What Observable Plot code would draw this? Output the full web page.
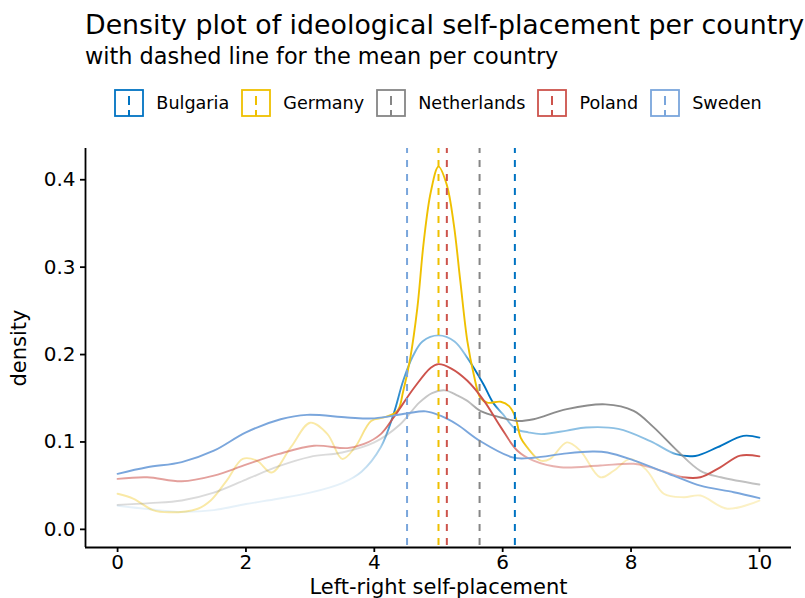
<!DOCTYPE html>
<html>
<head>
<meta charset="utf-8">
<script src="https://cdn.jsdelivr.net/npm/d3@7"></script>
<script src="https://cdn.jsdelivr.net/npm/@observablehq/plot@0.6"></script>
<style>
  body { margin: 0; background: #fff; }
  #wrap { position: relative; width: 805px; height: 598px; overflow: hidden; font-family: "DejaVu Sans", sans-serif; color: #000; }
  #title { position: absolute; left: 85px; top: 12px; font-size: 26.8px; line-height: 1; white-space: nowrap; }
  #subtitle { position: absolute; left: 85px; top: 45px; font-size: 22.4px; line-height: 1; white-space: nowrap; }
  #legend { position: absolute; left: 85px; width: 706px; top: 88px; height: 30px; display: flex; justify-content: center; align-items: center; font-size: 17.6px; }
  .item { display: flex; align-items: center; margin: 0 6px; }
  .item svg { margin-right: 12px; }
  #chart { position: absolute; left: 0; top: 130px; }
  #chart [aria-label$="tick"] { stroke-width: 1.8px; }
</style>
</head>
<body>
<div id="wrap">
  <div id="title">Density plot of ideological self-placement per country</div>
  <div id="subtitle">with dashed line for the mean per country</div>
  <div id="legend"></div>
  <div id="chart"></div>
</div>
<script>
// ---- data ----
const countries = ["Bulgaria", "Germany", "Netherlands", "Poland", "Sweden"];
const palette = ["#0073C2", "#EFC000", "#868686", "#CD534C", "#7AA6DC"];
const means = [6.19, 5.0, 5.64, 5.13, 4.51];

const bulgariaX = [0, 0.5, 1.0, 1.5, 2.0, 2.5, 3.0, 3.5, 3.8, 4.1, 4.3, 4.45, 4.6, 4.75, 5.0, 5.25, 5.45, 5.7, 5.85, 6.0, 6.2, 6.4, 6.6, 7.0, 7.3, 7.8, 8.3, 8.7, 9.0, 9.35, 9.75, 10];
const bulgariaY = [0.027, 0.023, 0.02, 0.022, 0.029, 0.035, 0.042, 0.053, 0.066, 0.094, 0.132, 0.17, 0.198, 0.215, 0.222, 0.215, 0.196, 0.166, 0.145, 0.132, 0.115, 0.111, 0.109, 0.113, 0.1166, 0.115, 0.101, 0.086, 0.084, 0.094, 0.107, 0.105];

const germanyX = [0, 0.25, 0.55, 0.8, 1.25, 1.45, 1.7, 1.95, 2.17, 2.4, 2.7, 3.0, 3.27, 3.5, 3.7, 3.95, 4.15, 4.36, 4.45, 4.56, 4.67, 4.77, 4.88, 5.0, 5.13, 5.24, 5.34, 5.45, 5.55, 5.65, 5.76, 5.97, 6.1, 6.2, 6.28, 6.38, 6.59, 6.74, 7.0, 7.21, 7.52, 7.73, 7.99, 8.25, 8.51, 8.82, 9.08, 9.5, 10];
const germanyY = [0.0407, 0.035, 0.022, 0.0195, 0.0236, 0.033, 0.0558, 0.0806, 0.0786, 0.065, 0.094, 0.122, 0.109, 0.0806, 0.094, 0.124, 0.128, 0.1356, 0.158, 0.196, 0.253, 0.329, 0.386, 0.415, 0.394, 0.348, 0.284, 0.215, 0.177, 0.151, 0.145, 0.146, 0.141, 0.128, 0.105, 0.094, 0.0786, 0.0806, 0.0995, 0.090, 0.0596, 0.067, 0.0806, 0.067, 0.0407, 0.0368, 0.0387, 0.0236, 0.033];

const netherlandsX = [0, 0.5, 1.0, 1.5, 2.0, 2.5, 3.0, 3.5, 4.0, 4.4, 4.7, 4.9, 5.1, 5.3, 5.45, 5.65, 5.97, 6.23, 6.48, 7.0, 7.6, 8.04, 8.35, 8.72, 9.08, 9.4, 10];
const netherlandsY = [0.028, 0.030, 0.033, 0.042, 0.057, 0.072, 0.083, 0.088, 0.0995, 0.12, 0.145, 0.156, 0.159, 0.153, 0.147, 0.1356, 0.128, 0.124, 0.126, 0.1375, 0.143, 0.1356, 0.117, 0.090, 0.067, 0.0596, 0.0513];

const polandX = [0, 0.46, 1.0, 1.5, 2.0, 2.5, 3.06, 3.58, 3.84, 4.1, 4.3, 4.62, 4.88, 5.0, 5.2, 5.45, 5.71, 5.97, 6.23, 6.48, 6.9, 7.52, 8.04, 8.3, 8.82, 9.08, 9.39, 9.7, 10];
const polandY = [0.0578, 0.0596, 0.055, 0.0615, 0.074, 0.086, 0.0957, 0.093, 0.0977, 0.109, 0.128, 0.162, 0.185, 0.189, 0.184, 0.170, 0.147, 0.117, 0.090, 0.0786, 0.071, 0.073, 0.075, 0.071, 0.0596, 0.0596, 0.071, 0.0843, 0.0835];

const swedenX = [0, 0.46, 1.0, 1.5, 2.0, 2.54, 2.95, 3.58, 4.0, 4.5, 4.8, 5.03, 5.29, 5.65, 6.17, 6.48, 7.0, 7.4, 7.63, 8.04, 8.66, 9.08, 9.6, 10];
const swedenY = [0.0635, 0.071, 0.077, 0.090, 0.111, 0.126, 0.131, 0.128, 0.127, 0.1326, 0.135, 0.130, 0.120, 0.101, 0.082, 0.082, 0.087, 0.089, 0.088, 0.079, 0.0615, 0.050, 0.0425, 0.0357];

// opacity of each curve along x, as it appears in the picture
const bulgariaAlphaX = [0, 3.6, 4.1, 4.3, 4.6, 5.0, 5.4, 5.55, 5.85, 6.0, 8.6, 8.85, 10];
const bulgariaAlpha  = [0.1, 0.1, 0.35, 0.9, 0.55, 0.45, 0.45, 1, 1, 0.45, 0.45, 1, 1];
const germanyAlphaX = [0, 3.6, 4.1, 4.3, 6.3, 6.6, 7.2, 10];
const germanyAlpha  = [0.35, 0.35, 0.6, 1, 1, 0.35, 0.3, 0.22];
const netherlandsAlphaX = [0, 4.0, 5.0, 5.5, 5.7, 8.6, 8.9, 10];
const netherlandsAlpha  = [0.3, 0.3, 0.5, 0.55, 0.95, 0.95, 0.55, 0.5];
const polandAlphaX = [0, 4.0, 4.3, 6.0, 6.4, 8.7, 8.9, 10];
const polandAlpha  = [0.55, 0.55, 1, 1, 0.45, 0.45, 1, 1];
const swedenAlphaX = [0, 10];
const swedenAlpha  = [1, 1];

const xTicks = [0, 2, 4, 6, 8, 10];
const yTicks = [0, 0.1, 0.2, 0.3, 0.4];

// ---- build tables ----
const seriesX = [bulgariaX, germanyX, netherlandsX, polandX, swedenX];
const seriesY = [bulgariaY, germanyY, netherlandsY, polandY, swedenY];
const alphaX = [bulgariaAlphaX, germanyAlphaX, netherlandsAlphaX, polandAlphaX, swedenAlphaX];
const alphaV = [bulgariaAlpha, germanyAlpha, netherlandsAlpha, polandAlpha, swedenAlpha];

const curves = countries.map((c, i) => seriesX[i].map((x, j) => ({country: c, x, density: seriesY[i][j]})));
const meanRows = countries.map((c, i) => ({country: c, mean: means[i]}));

const xMin = 0, xMax = 10;
const yMaxData = d3.max(seriesY.flat());
const xPad = (xMax - xMin) * 0.05, yPad = yMaxData * 0.05;
const xDomain = [xMin - xPad, xMax + xPad];
const yDomain = [0 - yPad, yMaxData + yPad];

const plot = Plot.plot({
  width: 805,
  height: 468,
  marginLeft: 85,
  marginRight: 14,
  marginTop: 18,
  marginBottom: 51,
  style: {fontFamily: "DejaVu Sans, sans-serif", fontSize: "20px", color: "#000", background: "#fff", overflow: "visible"},
  x: {domain: xDomain, ticks: xTicks, tickFormat: d3.format("d"), tickSize: 5, tickPadding: 2,
      label: "Left-right self-placement", labelAnchor: "center", labelOffset: 46, labelArrow: "none"},
  y: {domain: yDomain, ticks: yTicks, tickFormat: d3.format(".1f"), tickSize: 5, tickPadding: 5,
      label: "density", labelAnchor: "center", labelOffset: 74, labelArrow: "none"},
  color: {domain: countries, range: palette},
  marks: [
    ...curves.map((data, i) => Plot.line(data, {x: "x", y: "density", stroke: palette[i], strokeWidth: 1.9, curve: "catmull-rom"})),
    Plot.ruleX(meanRows, {x: "mean", stroke: "country", strokeWidth: 2, strokeDasharray: "7,7", strokeDashoffset: 2}),
    Plot.ruleX([xDomain[0]], {stroke: "#000", strokeWidth: 1.8}),
    Plot.ruleY([yDomain[0]], {stroke: "#000", strokeWidth: 1.8})
  ]
});

// gradients for the varying opacity along each curve
const xs = plot.scale("x");
const sx = d3.scaleLinear(xs.domain, xs.range);
const svg = d3.select(plot.tagName.toLowerCase() === "svg" ? plot : plot.querySelector("svg"));
const defs = svg.insert("defs", ":first-child");
countries.forEach((c, i) => {
  const lg = defs.append("linearGradient").attr("id", "grad-" + i)
    .attr("gradientUnits", "userSpaceOnUse")
    .attr("x1", sx(xMin)).attr("x2", sx(xMax)).attr("y1", 0).attr("y2", 0);
  alphaX[i].forEach((ax, k) => {
    lg.append("stop").attr("offset", (ax - xMin) / (xMax - xMin))
      .attr("stop-color", palette[i]).attr("stop-opacity", alphaV[i][k]);
  });
});
svg.selectAll('g[aria-label="line"]').each(function(d, i) {
  d3.select(this).attr("stroke", "url(#grad-" + i + ")");
  d3.select(this).selectAll("path").attr("stroke", "url(#grad-" + i + ")");
});
svg.selectAll('[aria-label="x-axis label"] text, [aria-label="y-axis label"] text')
  .style("font-size", "21px")
  .each(function() { this.textContent = this.textContent.replace(/\s*[→↑←↓]\s*/g, ""); });

document.getElementById("chart").appendChild(plot);

// legend
const legend = d3.select("#legend");
countries.forEach((c, i) => {
  const item = legend.append("div").attr("class", "item");
  const s = item.append("svg").attr("width", 30).attr("height", 28);
  s.append("rect").attr("x", 1).attr("y", 1).attr("width", 28).attr("height", 26)
    .attr("fill", "#fff").attr("stroke", palette[i]).attr("stroke-width", 1.8);
  s.append("line").attr("x1", 15).attr("x2", 15).attr("y1", 27).attr("y2", 1)
    .attr("stroke", palette[i]).attr("stroke-width", 2).attr("stroke-dasharray", "6,5,9,20");
  item.append("span").text(c);
});
</script>
</body>
</html>
